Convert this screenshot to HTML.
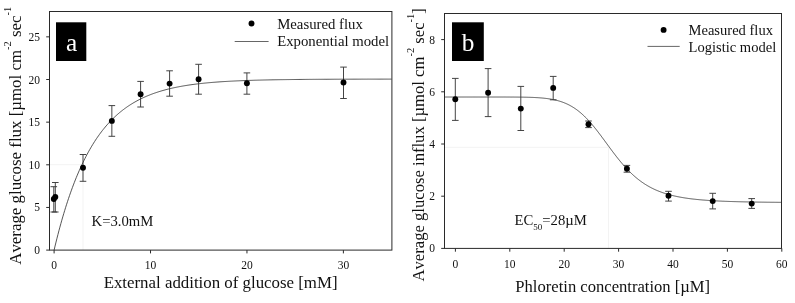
<!DOCTYPE html><html><head><meta charset="utf-8"><title>Glucose flux</title>
<style>html,body{margin:0;padding:0;background:#fff}svg{display:block}text{font-family:"Liberation Serif","Times New Roman",serif;fill:#111;font-kerning:none}</style></head><body>
<svg width="795" height="303" viewBox="0 0 795 303">
<rect width="795" height="303" fill="#fff"/>
<path d="M50,164.7H83V250M445,147.3H608.5V248" fill="none" stroke="#f3f3f3" stroke-width="1"/>
<path d="M54.10,250.10 L55.06,246.05 L56.03,242.09 L56.99,238.23 L57.96,234.46 L58.92,230.77 L59.89,227.18 L60.85,223.67 L61.81,220.24 L62.78,216.90 L63.74,213.63 L64.71,210.45 L65.67,207.33 L66.64,204.29 L67.60,201.33 L68.56,198.43 L69.53,195.60 L70.49,192.84 L71.46,190.14 L72.42,187.51 L73.39,184.94 L74.35,182.43 L75.31,179.98 L76.28,177.59 L77.24,175.26 L78.21,172.98 L79.17,170.75 L80.14,168.58 L81.10,166.46 L82.06,164.39 L83.03,162.37 L83.99,160.40 L84.96,158.47 L85.92,156.59 L86.89,154.75 L87.85,152.96 L88.81,151.21 L89.78,149.50 L90.74,147.83 L91.71,146.20 L92.67,144.61 L93.64,143.06 L94.60,141.54 L95.56,140.06 L96.53,138.61 L97.49,137.20 L98.46,135.83 L99.42,134.48 L100.39,133.17 L101.35,131.89 L102.31,130.64 L103.28,129.41 L104.24,128.22 L105.21,127.06 L106.17,125.92 L107.14,124.81 L108.10,123.73 L109.07,122.67 L110.03,121.63 L110.99,120.63 L111.96,119.64 L112.92,118.68 L113.89,117.74 L114.85,116.83 L115.82,115.93 L116.78,115.06 L117.74,114.20 L118.71,113.37 L119.67,112.56 L120.64,111.77 L121.60,110.99 L122.57,110.23 L123.53,109.50 L124.49,108.78 L125.46,108.07 L126.42,107.38 L127.39,106.71 L128.35,106.06 L129.32,105.42 L130.28,104.80 L131.24,104.19 L132.21,103.59 L133.17,103.01 L134.14,102.44 L135.10,101.89 L136.07,101.35 L137.03,100.82 L137.99,100.31 L138.96,99.80 L139.92,99.31 L140.89,98.83 L141.85,98.36 L142.82,97.91 L143.78,97.46 L144.74,97.02 L145.71,96.60 L146.67,96.18 L147.64,95.78 L148.60,95.38 L149.57,95.00 L150.53,94.62 L151.49,94.25 L152.46,93.89 L153.42,93.54 L154.39,93.20 L155.35,92.86 L156.32,92.54 L157.28,92.22 L158.24,91.90 L159.21,91.60 L160.17,91.30 L161.14,91.01 L162.10,90.73 L163.07,90.45 L164.03,90.19 L164.99,89.92 L165.96,89.66 L166.92,89.41 L167.89,89.17 L168.85,88.93 L169.82,88.70 L170.78,88.47 L171.74,88.25 L172.71,88.03 L173.67,87.82 L174.64,87.61 L175.60,87.41 L176.57,87.21 L177.53,87.02 L178.49,86.83 L179.46,86.64 L180.42,86.47 L181.39,86.29 L182.35,86.12 L183.32,85.95 L184.28,85.79 L185.24,85.63 L186.21,85.47 L187.17,85.32 L188.14,85.17 L189.10,85.03 L190.07,84.89 L191.03,84.75 L191.99,84.62 L192.96,84.49 L193.92,84.36 L194.89,84.23 L195.85,84.11 L196.82,83.99 L197.78,83.87 L198.75,83.76 L199.71,83.65 L200.67,83.54 L201.64,83.43 L202.60,83.33 L203.57,83.23 L204.53,83.13 L205.50,83.04 L206.46,82.94 L207.42,82.85 L208.39,82.76 L209.35,82.67 L210.32,82.59 L211.28,82.50 L212.25,82.42 L213.21,82.34 L214.17,82.27 L215.14,82.19 L216.10,82.12 L217.07,82.04 L218.03,81.97 L219.00,81.91 L219.96,81.84 L220.92,81.77 L221.89,81.71 L222.85,81.65 L223.82,81.59 L224.78,81.53 L225.75,81.47 L226.71,81.41 L227.67,81.36 L228.64,81.30 L229.60,81.25 L230.57,81.20 L231.53,81.15 L232.50,81.10 L233.46,81.05 L234.42,81.00 L235.39,80.96 L236.35,80.91 L237.32,80.87 L238.28,80.83 L239.25,80.79 L240.21,80.74 L241.17,80.71 L242.14,80.67 L243.10,80.63 L244.07,80.59 L245.03,80.56 L246.00,80.52 L246.96,80.49 L247.92,80.45 L248.89,80.42 L249.85,80.39 L250.82,80.36 L251.78,80.33 L252.75,80.30 L253.71,80.27 L254.67,80.24 L255.64,80.21 L256.60,80.19 L257.57,80.16 L258.53,80.13 L259.50,80.11 L260.46,80.08 L261.42,80.06 L262.39,80.04 L263.35,80.01 L264.32,79.99 L265.28,79.97 L266.25,79.95 L267.21,79.93 L268.17,79.91 L269.14,79.89 L270.10,79.87 L271.07,79.85 L272.03,79.83 L273.00,79.81 L273.96,79.80 L274.92,79.78 L275.89,79.76 L276.85,79.75 L277.82,79.73 L278.78,79.71 L279.75,79.70 L280.71,79.68 L281.67,79.67 L282.64,79.66 L283.60,79.64 L284.57,79.63 L285.53,79.61 L286.50,79.60 L287.46,79.59 L288.42,79.58 L289.39,79.57 L290.35,79.55 L291.32,79.54 L292.28,79.53 L293.25,79.52 L294.21,79.51 L295.18,79.50 L296.14,79.49 L297.10,79.48 L298.07,79.47 L299.03,79.46 L300.00,79.45 L300.96,79.44 L301.93,79.43 L302.89,79.43 L303.85,79.42 L304.82,79.41 L305.78,79.40 L306.75,79.39 L307.71,79.39 L308.68,79.38 L309.64,79.37 L310.60,79.36 L311.57,79.36 L312.53,79.35 L313.50,79.34 L314.46,79.34 L315.43,79.33 L316.39,79.32 L317.35,79.32 L318.32,79.31 L319.28,79.31 L320.25,79.30 L321.21,79.30 L322.18,79.29 L323.14,79.29 L324.10,79.28 L325.07,79.28 L326.03,79.27 L327.00,79.27 L327.96,79.26 L328.93,79.26 L329.89,79.25 L330.85,79.25 L331.82,79.24 L332.78,79.24 L333.75,79.24 L334.71,79.23 L335.68,79.23 L336.64,79.23 L337.60,79.22 L338.57,79.22 L339.53,79.21 L340.50,79.21 L341.46,79.21 L342.43,79.21 L343.39,79.20 L344.35,79.20 L345.32,79.20 L346.28,79.19 L347.25,79.19 L348.21,79.19 L349.18,79.18 L350.14,79.18 L351.10,79.18 L352.07,79.18 L353.03,79.17 L354.00,79.17 L354.96,79.17 L355.93,79.17 L356.89,79.17 L357.85,79.16 L358.82,79.16 L359.78,79.16 L360.75,79.16 L361.71,79.15 L362.68,79.15 L363.64,79.15 L364.60,79.15 L365.57,79.15 L366.53,79.15 L367.50,79.14 L368.46,79.14 L369.43,79.14 L370.39,79.14 L371.35,79.14 L372.32,79.14 L373.28,79.13 L374.25,79.13 L375.21,79.13 L376.18,79.13 L377.14,79.13 L378.10,79.13 L379.07,79.13 L380.03,79.13 L381.00,79.12 L381.96,79.12 L382.93,79.12 L383.89,79.12 L384.85,79.12 L385.82,79.12 L386.78,79.12 L387.75,79.12 L388.71,79.12 L389.68,79.11 L390.64,79.11 L391.61,79.11" fill="none" stroke="#2a2a2a" stroke-width="0.8"/>
<rect x="49.5" y="11.5" width="342.4" height="238.6" fill="none" stroke="#2a2a2a" stroke-width="1"/>
<line x1="54.10" y1="250.1" x2="54.10" y2="253.4" stroke="#2a2a2a" stroke-width="1"/>
<text x="54.10" y="269.20" font-size="11.5" text-anchor="middle">0</text>
<line x1="150.53" y1="250.1" x2="150.53" y2="253.4" stroke="#2a2a2a" stroke-width="1"/>
<text x="150.53" y="269.20" font-size="11.5" text-anchor="middle">10</text>
<line x1="246.96" y1="250.1" x2="246.96" y2="253.4" stroke="#2a2a2a" stroke-width="1"/>
<text x="246.96" y="269.20" font-size="11.5" text-anchor="middle">20</text>
<line x1="343.39" y1="250.1" x2="343.39" y2="253.4" stroke="#2a2a2a" stroke-width="1"/>
<text x="343.39" y="269.20" font-size="11.5" text-anchor="middle">30</text>
<line x1="46.2" y1="250.10" x2="49.5" y2="250.10" stroke="#2a2a2a" stroke-width="1"/>
<text x="40.0" y="254.10" font-size="11.5" text-anchor="end">0</text>
<line x1="46.2" y1="207.45" x2="49.5" y2="207.45" stroke="#2a2a2a" stroke-width="1"/>
<text x="40.0" y="211.45" font-size="11.5" text-anchor="end">5</text>
<line x1="46.2" y1="164.80" x2="49.5" y2="164.80" stroke="#2a2a2a" stroke-width="1"/>
<text x="40.0" y="168.80" font-size="11.5" text-anchor="end">10</text>
<line x1="46.2" y1="122.15" x2="49.5" y2="122.15" stroke="#2a2a2a" stroke-width="1"/>
<text x="40.0" y="126.15" font-size="11.5" text-anchor="end">15</text>
<line x1="46.2" y1="79.50" x2="49.5" y2="79.50" stroke="#2a2a2a" stroke-width="1"/>
<text x="40.0" y="83.50" font-size="11.5" text-anchor="end">20</text>
<line x1="46.2" y1="36.85" x2="49.5" y2="36.85" stroke="#2a2a2a" stroke-width="1"/>
<text x="40.0" y="40.85" font-size="11.5" text-anchor="end">25</text>
<path d="M53.80,186.70V212.00M50.50,186.70h6.6M50.50,212.00h6.6" stroke="#3a3a3a" stroke-width="0.95" fill="none"/>
<path d="M55.30,182.50V212.00M52.00,182.50h6.6M52.00,212.00h6.6" stroke="#3a3a3a" stroke-width="0.95" fill="none"/>
<path d="M83.00,154.50V181.30M79.70,154.50h6.6M79.70,181.30h6.6" stroke="#3a3a3a" stroke-width="0.95" fill="none"/>
<path d="M111.85,105.60V136.30M108.55,105.60h6.6M108.55,136.30h6.6" stroke="#3a3a3a" stroke-width="0.95" fill="none"/>
<path d="M140.60,81.40V107.00M137.30,81.40h6.6M137.30,107.00h6.6" stroke="#3a3a3a" stroke-width="0.95" fill="none"/>
<path d="M169.60,70.80V96.20M166.30,70.80h6.6M166.30,96.20h6.6" stroke="#3a3a3a" stroke-width="0.95" fill="none"/>
<path d="M198.60,64.30V94.20M195.30,64.30h6.6M195.30,94.20h6.6" stroke="#3a3a3a" stroke-width="0.95" fill="none"/>
<path d="M246.90,72.90V94.20M243.60,72.90h6.6M243.60,94.20h6.6" stroke="#3a3a3a" stroke-width="0.95" fill="none"/>
<path d="M343.50,67.10V98.50M340.20,67.10h6.6M340.20,98.50h6.6" stroke="#3a3a3a" stroke-width="0.95" fill="none"/>
<circle cx="53.80" cy="199.00" r="2.95" fill="#000"/>
<circle cx="55.30" cy="197.00" r="2.95" fill="#000"/>
<circle cx="83.00" cy="167.70" r="2.95" fill="#000"/>
<circle cx="111.85" cy="120.90" r="2.95" fill="#000"/>
<circle cx="140.60" cy="94.20" r="2.95" fill="#000"/>
<circle cx="169.60" cy="83.60" r="2.95" fill="#000"/>
<circle cx="198.60" cy="79.20" r="2.95" fill="#000"/>
<circle cx="246.90" cy="83.30" r="2.95" fill="#000"/>
<circle cx="343.50" cy="82.50" r="2.95" fill="#000"/>
<circle cx="251.5" cy="23.5" r="2.95" fill="#000"/>
<line x1="234.7" y1="41.5" x2="268.6" y2="41.5" stroke="#333" stroke-width="0.75"/>
<text x="277.2" y="28.7" font-size="14.78">Measured flux</text>
<text x="277.2" y="46.3" font-size="14.78">Exponential model</text>
<rect x="56" y="22.3" width="30.3" height="38.7" fill="#000"/>
<text x="71.5" y="51" font-size="25.3" text-anchor="middle" style="fill:#fff">a</text>
<text x="220.6" y="288.4" font-size="16.85" text-anchor="middle">External addition of glucose [mM]</text>
<text transform="translate(20.7,135.75) rotate(-90)" font-size="16.87" text-anchor="middle">Average glucose flux [µmol cm<tspan dy="-9.3" font-size="10.5">-2</tspan><tspan dy="9.3"> sec</tspan><tspan dy="-9.3" font-size="10.5">-1</tspan></text>
<text x="91.6" y="226.2" font-size="14.7">K=3.0mM</text>
<path d="M445.06,97.02 L445.61,97.02 L446.15,97.02 L446.70,97.02 L447.24,97.02 L447.78,97.02 L448.33,97.02 L448.87,97.02 L449.42,97.02 L449.96,97.02 L450.50,97.02 L451.05,97.02 L451.59,97.02 L452.14,97.02 L452.68,97.02 L453.22,97.02 L453.77,97.02 L454.31,97.02 L454.86,97.02 L455.40,97.02 L455.94,97.02 L456.49,97.02 L457.03,97.02 L457.58,97.02 L458.12,97.02 L458.66,97.02 L459.21,97.02 L459.75,97.02 L460.30,97.02 L460.84,97.02 L461.38,97.02 L461.93,97.02 L462.47,97.02 L463.02,97.02 L463.56,97.02 L464.10,97.02 L464.65,97.02 L465.19,97.02 L465.74,97.02 L466.28,97.02 L466.82,97.02 L467.37,97.02 L467.91,97.02 L468.46,97.02 L469.00,97.02 L469.54,97.02 L470.09,97.02 L470.63,97.02 L471.18,97.02 L471.72,97.02 L472.26,97.02 L472.81,97.02 L473.35,97.02 L473.90,97.02 L474.44,97.02 L474.98,97.02 L475.53,97.02 L476.07,97.02 L476.62,97.02 L477.16,97.02 L477.70,97.02 L478.25,97.02 L478.79,97.02 L479.34,97.02 L479.88,97.02 L480.42,97.02 L480.97,97.02 L481.51,97.02 L482.06,97.02 L482.60,97.02 L483.14,97.02 L483.69,97.02 L484.23,97.02 L484.78,97.02 L485.32,97.02 L485.86,97.02 L486.41,97.02 L486.95,97.02 L487.50,97.02 L488.04,97.02 L488.58,97.02 L489.13,97.02 L489.67,97.02 L490.22,97.02 L490.76,97.02 L491.30,97.02 L491.85,97.02 L492.39,97.02 L492.94,97.02 L493.48,97.02 L494.02,97.02 L494.57,97.02 L495.11,97.02 L495.66,97.02 L496.20,97.02 L496.74,97.02 L497.29,97.02 L497.83,97.02 L498.38,97.02 L498.92,97.02 L499.46,97.02 L500.01,97.03 L500.55,97.03 L501.10,97.03 L501.64,97.03 L502.18,97.03 L502.73,97.03 L503.27,97.03 L503.82,97.03 L504.36,97.03 L504.90,97.03 L505.45,97.03 L505.99,97.03 L506.54,97.04 L507.08,97.04 L507.62,97.04 L508.17,97.04 L508.71,97.04 L509.26,97.04 L509.80,97.04 L510.34,97.05 L510.89,97.05 L511.43,97.05 L511.98,97.05 L512.52,97.06 L513.06,97.06 L513.61,97.06 L514.15,97.07 L514.70,97.07 L515.24,97.07 L515.78,97.08 L516.33,97.08 L516.87,97.09 L517.42,97.09 L517.96,97.10 L518.50,97.10 L519.05,97.11 L519.59,97.11 L520.14,97.12 L520.68,97.13 L521.22,97.13 L521.77,97.14 L522.31,97.15 L522.86,97.16 L523.40,97.17 L523.94,97.18 L524.49,97.19 L525.03,97.20 L525.58,97.21 L526.12,97.22 L526.66,97.23 L527.21,97.25 L527.75,97.26 L528.30,97.27 L528.84,97.29 L529.38,97.31 L529.93,97.32 L530.47,97.34 L531.02,97.36 L531.56,97.38 L532.10,97.40 L532.65,97.42 L533.19,97.44 L533.74,97.47 L534.28,97.49 L534.82,97.52 L535.37,97.55 L535.91,97.58 L536.46,97.61 L537.00,97.64 L537.54,97.67 L538.09,97.71 L538.63,97.74 L539.18,97.78 L539.72,97.82 L540.26,97.86 L540.81,97.91 L541.35,97.95 L541.90,98.00 L542.44,98.05 L542.98,98.10 L543.53,98.15 L544.07,98.21 L544.62,98.27 L545.16,98.33 L545.70,98.39 L546.25,98.46 L546.79,98.53 L547.34,98.60 L547.88,98.67 L548.42,98.75 L548.97,98.83 L549.51,98.91 L550.06,99.00 L550.60,99.09 L551.14,99.19 L551.69,99.28 L552.23,99.38 L552.78,99.49 L553.32,99.60 L553.86,99.71 L554.41,99.83 L554.95,99.95 L555.50,100.07 L556.04,100.20 L556.58,100.34 L557.13,100.48 L557.67,100.62 L558.22,100.77 L558.76,100.93 L559.30,101.09 L559.85,101.25 L560.39,101.42 L560.94,101.60 L561.48,101.78 L562.02,101.97 L562.57,102.16 L563.11,102.36 L563.66,102.57 L564.20,102.78 L564.74,103.00 L565.29,103.22 L565.83,103.46 L566.38,103.70 L566.92,103.94 L567.46,104.20 L568.01,104.46 L568.55,104.73 L569.10,105.00 L569.64,105.29 L570.18,105.58 L570.73,105.88 L571.27,106.19 L571.82,106.50 L572.36,106.83 L572.90,107.16 L573.45,107.50 L573.99,107.85 L574.54,108.21 L575.08,108.57 L575.62,108.95 L576.17,109.33 L576.71,109.72 L577.26,110.13 L577.80,110.54 L578.34,110.96 L578.89,111.39 L579.43,111.83 L579.98,112.27 L580.52,112.73 L581.06,113.19 L581.61,113.67 L582.15,114.15 L582.70,114.65 L583.24,115.15 L583.78,115.66 L584.33,116.18 L584.87,116.71 L585.42,117.25 L585.96,117.79 L586.50,118.35 L587.05,118.92 L587.59,119.49 L588.14,120.07 L588.68,120.66 L589.22,121.26 L589.77,121.86 L590.31,122.48 L590.86,123.10 L591.40,123.73 L591.94,124.36 L592.49,125.01 L593.03,125.66 L593.58,126.32 L594.12,126.98 L594.66,127.65 L595.21,128.33 L595.75,129.01 L596.30,129.70 L596.84,130.39 L597.38,131.09 L597.93,131.80 L598.47,132.50 L599.02,133.22 L599.56,133.93 L600.10,134.65 L600.65,135.38 L601.19,136.10 L601.74,136.83 L602.28,137.57 L602.82,138.30 L603.37,139.04 L603.91,139.78 L604.46,140.52 L605.00,141.26 L605.54,142.00 L606.09,142.74 L606.63,143.48 L607.18,144.23 L607.72,144.97 L608.26,145.71 L608.81,146.45 L609.35,147.19 L609.90,147.93 L610.44,148.66 L610.98,149.39 L611.53,150.13 L612.07,150.85 L612.62,151.58 L613.16,152.30 L613.70,153.02 L614.25,153.74 L614.79,154.45 L615.34,155.15 L615.88,155.86 L616.42,156.55 L616.97,157.25 L617.51,157.94 L618.06,158.62 L618.60,159.30 L619.14,159.97 L619.69,160.64 L620.23,161.30 L620.78,161.96 L621.32,162.61 L621.86,163.25 L622.41,163.89 L622.95,164.52 L623.50,165.14 L624.04,165.76 L624.58,166.37 L625.13,166.97 L625.67,167.57 L626.22,168.16 L626.76,168.74 L627.30,169.32 L627.85,169.89 L628.39,170.45 L628.94,171.00 L629.48,171.55 L630.02,172.09 L630.57,172.62 L631.11,173.15 L631.66,173.67 L632.20,174.18 L632.74,174.68 L633.29,175.18 L633.83,175.67 L634.38,176.15 L634.92,176.63 L635.46,177.09 L636.01,177.55 L636.55,178.01 L637.10,178.45 L637.64,178.89 L638.18,179.33 L638.73,179.75 L639.27,180.17 L639.82,180.58 L640.36,180.99 L640.90,181.38 L641.45,181.78 L641.99,182.16 L642.54,182.54 L643.08,182.91 L643.62,183.28 L644.17,183.64 L644.71,183.99 L645.26,184.34 L645.80,184.68 L646.34,185.01 L646.89,185.34 L647.43,185.66 L647.98,185.98 L648.52,186.29 L649.06,186.60 L649.61,186.90 L650.15,187.19 L650.70,187.48 L651.24,187.77 L651.78,188.05 L652.33,188.32 L652.87,188.59 L653.42,188.85 L653.96,189.11 L654.50,189.37 L655.05,189.62 L655.59,189.86 L656.14,190.10 L656.68,190.34 L657.22,190.57 L657.77,190.79 L658.31,191.01 L658.86,191.23 L659.40,191.45 L659.94,191.66 L660.49,191.86 L661.03,192.06 L661.58,192.26 L662.12,192.46 L662.66,192.65 L663.21,192.83 L663.75,193.02 L664.30,193.19 L664.84,193.37 L665.38,193.54 L665.93,193.71 L666.47,193.88 L667.02,194.04 L667.56,194.20 L668.10,194.36 L668.65,194.51 L669.19,194.66 L669.74,194.81 L670.28,194.95 L670.82,195.10 L671.37,195.23 L671.91,195.37 L672.46,195.50 L673.00,195.64 L673.54,195.76 L674.09,195.89 L674.63,196.01 L675.18,196.13 L675.72,196.25 L676.26,196.37 L676.81,196.48 L677.35,196.60 L677.90,196.71 L678.44,196.81 L678.98,196.92 L679.53,197.02 L680.07,197.12 L680.62,197.22 L681.16,197.32 L681.70,197.42 L682.25,197.51 L682.79,197.60 L683.34,197.69 L683.88,197.78 L684.42,197.87 L684.97,197.95 L685.51,198.04 L686.06,198.12 L686.60,198.20 L687.14,198.28 L687.69,198.35 L688.23,198.43 L688.78,198.50 L689.32,198.58 L689.86,198.65 L690.41,198.72 L690.95,198.79 L691.50,198.86 L692.04,198.92 L692.58,198.99 L693.13,199.05 L693.67,199.11 L694.22,199.17 L694.76,199.23 L695.30,199.29 L695.85,199.35 L696.39,199.41 L696.94,199.46 L697.48,199.52 L698.02,199.57 L698.57,199.62 L699.11,199.68 L699.66,199.73 L700.20,199.78 L700.74,199.82 L701.29,199.87 L701.83,199.92 L702.38,199.97 L702.92,200.01 L703.46,200.05 L704.01,200.10 L704.55,200.14 L705.10,200.18 L705.64,200.22 L706.18,200.26 L706.73,200.30 L707.27,200.34 L707.82,200.38 L708.36,200.42 L708.90,200.46 L709.45,200.49 L709.99,200.53 L710.54,200.56 L711.08,200.60 L711.62,200.63 L712.17,200.66 L712.71,200.70 L713.26,200.73 L713.80,200.76 L714.34,200.79 L714.89,200.82 L715.43,200.85 L715.98,200.88 L716.52,200.91 L717.06,200.93 L717.61,200.96 L718.15,200.99 L718.70,201.02 L719.24,201.04 L719.78,201.07 L720.33,201.09 L720.87,201.12 L721.42,201.14 L721.96,201.17 L722.50,201.19 L723.05,201.21 L723.59,201.23 L724.14,201.26 L724.68,201.28 L725.22,201.30 L725.77,201.32 L726.31,201.34 L726.86,201.36 L727.40,201.38 L727.94,201.40 L728.49,201.42 L729.03,201.44 L729.58,201.46 L730.12,201.48 L730.66,201.50 L731.21,201.51 L731.75,201.53 L732.30,201.55 L732.84,201.56 L733.38,201.58 L733.93,201.60 L734.47,201.61 L735.02,201.63 L735.56,201.64 L736.10,201.66 L736.65,201.67 L737.19,201.69 L737.74,201.70 L738.28,201.72 L738.82,201.73 L739.37,201.74 L739.91,201.76 L740.46,201.77 L741.00,201.78 L741.54,201.80 L742.09,201.81 L742.63,201.82 L743.18,201.83 L743.72,201.85 L744.26,201.86 L744.81,201.87 L745.35,201.88 L745.90,201.89 L746.44,201.90 L746.98,201.91 L747.53,201.93 L748.07,201.94 L748.62,201.95 L749.16,201.96 L749.70,201.97 L750.25,201.98 L750.79,201.99 L751.34,202.00 L751.88,202.00 L752.42,202.01 L752.97,202.02 L753.51,202.03 L754.06,202.04 L754.60,202.05 L755.14,202.06 L755.69,202.07 L756.23,202.07 L756.78,202.08 L757.32,202.09 L757.86,202.10 L758.41,202.11 L758.95,202.11 L759.50,202.12 L760.04,202.13 L760.58,202.14 L761.13,202.14 L761.67,202.15 L762.22,202.16 L762.76,202.16 L763.30,202.17 L763.85,202.18 L764.39,202.18 L764.94,202.19 L765.48,202.20 L766.02,202.20 L766.57,202.21 L767.11,202.21 L767.66,202.22 L768.20,202.23 L768.74,202.23 L769.29,202.24 L769.83,202.24 L770.38,202.25 L770.92,202.25 L771.46,202.26 L772.01,202.26 L772.55,202.27 L773.10,202.27 L773.64,202.28 L774.18,202.28 L774.73,202.29 L775.27,202.29 L775.82,202.30 L776.36,202.30 L776.90,202.31 L777.45,202.31 L777.99,202.32 L778.54,202.32 L779.08,202.33 L779.62,202.33 L780.17,202.33 L780.71,202.34 L781.26,202.34 L781.80,202.35" fill="none" stroke="#2a2a2a" stroke-width="0.8"/>
<rect x="444.5" y="13.5" width="337.0" height="234.9" fill="none" stroke="#2a2a2a" stroke-width="1"/>
<line x1="455.40" y1="248.4" x2="455.40" y2="251.70000000000002" stroke="#2a2a2a" stroke-width="1"/>
<text x="455.40" y="267.50" font-size="11.5" text-anchor="middle">0</text>
<line x1="509.80" y1="248.4" x2="509.80" y2="251.70000000000002" stroke="#2a2a2a" stroke-width="1"/>
<text x="509.80" y="267.50" font-size="11.5" text-anchor="middle">10</text>
<line x1="564.20" y1="248.4" x2="564.20" y2="251.70000000000002" stroke="#2a2a2a" stroke-width="1"/>
<text x="564.20" y="267.50" font-size="11.5" text-anchor="middle">20</text>
<line x1="618.60" y1="248.4" x2="618.60" y2="251.70000000000002" stroke="#2a2a2a" stroke-width="1"/>
<text x="618.60" y="267.50" font-size="11.5" text-anchor="middle">30</text>
<line x1="673.00" y1="248.4" x2="673.00" y2="251.70000000000002" stroke="#2a2a2a" stroke-width="1"/>
<text x="673.00" y="267.50" font-size="11.5" text-anchor="middle">40</text>
<line x1="727.40" y1="248.4" x2="727.40" y2="251.70000000000002" stroke="#2a2a2a" stroke-width="1"/>
<text x="727.40" y="267.50" font-size="11.5" text-anchor="middle">50</text>
<line x1="781.80" y1="248.4" x2="781.80" y2="251.70000000000002" stroke="#2a2a2a" stroke-width="1"/>
<text x="781.80" y="267.50" font-size="11.5" text-anchor="middle">60</text>
<line x1="441.2" y1="248.40" x2="444.5" y2="248.40" stroke="#2a2a2a" stroke-width="1"/>
<text x="435.0" y="252.40" font-size="11.5" text-anchor="end">0</text>
<line x1="441.2" y1="196.20" x2="444.5" y2="196.20" stroke="#2a2a2a" stroke-width="1"/>
<text x="435.0" y="200.20" font-size="11.5" text-anchor="end">2</text>
<line x1="441.2" y1="144.00" x2="444.5" y2="144.00" stroke="#2a2a2a" stroke-width="1"/>
<text x="435.0" y="148.00" font-size="11.5" text-anchor="end">4</text>
<line x1="441.2" y1="91.80" x2="444.5" y2="91.80" stroke="#2a2a2a" stroke-width="1"/>
<text x="435.0" y="95.80" font-size="11.5" text-anchor="end">6</text>
<line x1="441.2" y1="39.60" x2="444.5" y2="39.60" stroke="#2a2a2a" stroke-width="1"/>
<text x="435.0" y="43.60" font-size="11.5" text-anchor="end">8</text>
<path d="M455.30,78.40V120.40M452.00,78.40h6.6M452.00,120.40h6.6" stroke="#3a3a3a" stroke-width="0.95" fill="none"/>
<path d="M488.10,68.60V116.60M484.80,68.60h6.6M484.80,116.60h6.6" stroke="#3a3a3a" stroke-width="0.95" fill="none"/>
<path d="M520.80,86.40V130.50M517.50,86.40h6.6M517.50,130.50h6.6" stroke="#3a3a3a" stroke-width="0.95" fill="none"/>
<path d="M553.20,76.40V99.80M549.90,76.40h6.6M549.90,99.80h6.6" stroke="#3a3a3a" stroke-width="0.95" fill="none"/>
<path d="M588.50,121.00V127.60M585.20,121.00h6.6M585.20,127.60h6.6" stroke="#3a3a3a" stroke-width="0.95" fill="none"/>
<path d="M626.90,165.40V172.20M623.60,165.40h6.6M623.60,172.20h6.6" stroke="#3a3a3a" stroke-width="0.95" fill="none"/>
<path d="M668.50,191.30V201.10M665.20,191.30h6.6M665.20,201.10h6.6" stroke="#3a3a3a" stroke-width="0.95" fill="none"/>
<path d="M712.70,193.30V208.90M709.40,193.30h6.6M709.40,208.90h6.6" stroke="#3a3a3a" stroke-width="0.95" fill="none"/>
<path d="M751.70,198.60V208.40M748.40,198.60h6.6M748.40,208.40h6.6" stroke="#3a3a3a" stroke-width="0.95" fill="none"/>
<circle cx="455.30" cy="99.30" r="2.95" fill="#000"/>
<circle cx="488.10" cy="92.70" r="2.95" fill="#000"/>
<circle cx="520.80" cy="108.60" r="2.95" fill="#000"/>
<circle cx="553.20" cy="87.90" r="2.95" fill="#000"/>
<circle cx="588.50" cy="124.30" r="2.95" fill="#000"/>
<circle cx="626.90" cy="168.70" r="2.95" fill="#000"/>
<circle cx="668.50" cy="195.80" r="2.95" fill="#000"/>
<circle cx="712.70" cy="201.10" r="2.95" fill="#000"/>
<circle cx="751.70" cy="203.60" r="2.95" fill="#000"/>
<circle cx="663.6" cy="29.9" r="2.95" fill="#000"/>
<line x1="647.5" y1="46.4" x2="679.7" y2="46.4" stroke="#333" stroke-width="0.75"/>
<text x="688.5" y="34.6" font-size="14.55">Measured flux</text>
<text x="688.5" y="51.8" font-size="14.55">Logistic model</text>
<rect x="452" y="22.3" width="31.8" height="38.7" fill="#000"/>
<text x="468.2" y="51" font-size="25.3" text-anchor="middle" style="fill:#fff">b</text>
<text x="612.75" y="292.3" font-size="16.6" text-anchor="middle">Phloretin concentration [µM]</text>
<text transform="translate(423.6,144.8) rotate(-90)" font-size="16.65" text-anchor="middle">Average glucose influx [µmol cm<tspan dy="-9.3" font-size="10.5">-2</tspan><tspan dy="9.3"> sec</tspan><tspan dy="-9.3" font-size="10.5">-1</tspan><tspan dy="9.3">]</tspan></text>
<text x="514.5" y="224.9" font-size="14.7">EC<tspan dy="4.7" font-size="9">50</tspan><tspan dy="-4.7">=28µM</tspan></text>
</svg></body></html>
